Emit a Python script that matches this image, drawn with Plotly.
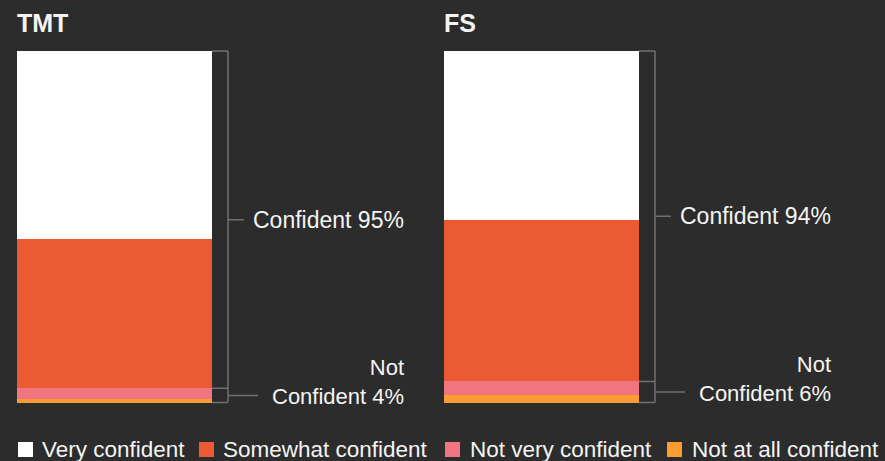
import plotly.graph_objects as go

# ---- data ----
panels = ["TMT", "FS"]
categories = ["Very confident", "Somewhat confident", "Not very confident", "Not at all confident"]
tmt_values = [53, 42, 3, 1]
fs_values = [48, 46, 4, 2]
panel_values = [tmt_values, fs_values]

# ---- style ----
colors = ["#ffffff", "#eb5a33", "#f17580", "#f99d33"]
bg = "#2c2c2c"
line_color = "#707070"
text_color = "#f4f4f4"
font_family = "Liberation Sans, Arial, Helvetica, sans-serif"

W, H = 885, 461
bar_left_px = [17, 444]
bar_w_px = 195
span_px = 400
top_px, bottom_px = 51, 402.5
pad_units = 0.6
bracket_gap_px = 16
tick_big_px = 16
tick_small_px = 30
text_gap_px = 7
text_right_px = 178

px_per_unit_y = (bottom_px - top_px) / 100.0
dom_top = 1 - (top_px - pad_units * px_per_unit_y) / H
dom_bot = 1 - (bottom_px + pad_units * px_per_unit_y) / H

fig = go.Figure()
shapes = []
annotations = []

for i, (panel, vals) in enumerate(zip(panels, panel_values)):
    n = "" if i == 0 else str(i + 1)
    xa, ya = "x" + n, "y" + n
    # stack from the bottom: last category first
    for cat, v, c in reversed(list(zip(categories, vals, colors))):
        fig.add_trace(go.Bar(
            x=[0.5], y=[v], width=[1], name=cat,
            marker=dict(color=c, line=dict(width=0)),
            xaxis=xa, yaxis=ya, showlegend=False, hoverinfo="skip",
        ))
    total = float(sum(vals))
    conf = vals[0] + vals[1]
    notconf = vals[2] + vals[3]
    nc_top = notconf / total * 100
    mid_big = (100 + nc_top) / 2
    mid_small = nc_top / 2
    u = 1.0 / bar_w_px
    bx = 1 + bracket_gap_px * u
    segs = [
        (1, 100, bx, 100),
        (bx, 100, bx, nc_top),
        (1, nc_top, bx, nc_top),
        (bx, nc_top, bx, 0),
        (1, 0, bx, 0),
        (bx, mid_big, bx + tick_big_px * u, mid_big),
        (bx, mid_small, bx + tick_small_px * u, mid_small),
    ]
    for x0, y0, x1, y1 in segs:
        shapes.append(dict(type="line", xref=xa, yref=ya, x0=x0, y0=y0, x1=x1, y1=y1,
                           line=dict(color=line_color, width=1.5)))
    annotations.append(dict(
        xref=xa, yref=ya, x=bx + (tick_big_px + text_gap_px) * u, y=mid_big,
        xanchor="left", yanchor="middle", showarrow=False,
        text=f"Confident {conf}%", font=dict(size=23, color=text_color, family=font_family),
    ))
    annotations.append(dict(
        xref=xa, yref=ya, x=bx + text_right_px * u, y=mid_small,
        xanchor="right", yanchor="middle", align="right", showarrow=False, yshift=13,
        text=f"Not<br>Confident {notconf}%", font=dict(size=22, color=text_color, family=font_family),
    ))
    annotations.append(dict(
        xref="paper", yref="paper", x=(bar_left_px[i] - 2) / W, y=1 - 23 / H,
        xanchor="left", yanchor="middle", showarrow=False,
        text=f"<b>{panel}</b>", font=dict(size=25, color=text_color, family=font_family),
    ))
    dom = [bar_left_px[i] / W, (bar_left_px[i] + span_px) / W]
    axis_common = dict(visible=False, showgrid=False, zeroline=False, fixedrange=True)
    fig.update_layout(**{
        "xaxis" + n: dict(domain=dom, range=[0, span_px / bar_w_px], anchor=ya, **axis_common),
        "yaxis" + n: dict(domain=[dom_bot, dom_top], range=[-pad_units, 100 + pad_units], anchor=xa, **axis_common),
    })

# ---- custom legend ----
legend_square_px = [18, 199, 445, 667]
legend_text_px = [40, 221, 468, 690]
sq = 15
sq_top = 442
for cat, c, sx, tx in zip(categories, colors, legend_square_px, legend_text_px):
    shapes.append(dict(type="rect", xref="paper", yref="paper",
                       x0=sx / W, x1=(sx + sq) / W, y0=1 - (sq_top + sq) / H, y1=1 - sq_top / H,
                       fillcolor=c, line=dict(width=0)))
    annotations.append(dict(
        xref="paper", yref="paper", x=tx / W, y=1 - (sq_top + sq / 2) / H,
        xanchor="left", yanchor="middle", showarrow=False,
        text=cat, font=dict(size=22.5, color=text_color, family=font_family),
    ))

fig.update_layout(
    width=W, height=H,
    margin=dict(l=0, r=0, t=0, b=0),
    paper_bgcolor=bg, plot_bgcolor=bg,
    barmode="stack", barnorm="percent",
    showlegend=False, hovermode=False,
    shapes=shapes, annotations=annotations,
    font=dict(family=font_family, color=text_color),
)

post = ("document.body.style.margin='0';document.body.style.padding='0';"
        "document.body.style.overflow='hidden';document.body.style.background='%s';" % bg)
fig.write_html("out.html", config={"displayModeBar": False}, post_script=post)
